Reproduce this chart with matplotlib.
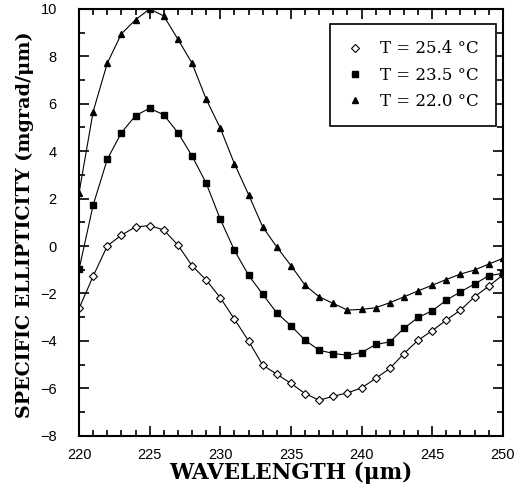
import numpy as np
import matplotlib.pyplot as plt
from matplotlib.ticker import MultipleLocator

# wavelength (nm), one point per nm
wavelength = list(range(220, 251))

# T = 25.4 C (open diamonds)
ell_254 = [-2.63, -1.27, 0.01, 0.46, 0.81, 0.86, 0.68, 0.04, -0.83, -1.43,
           -2.18, -3.08, -4.00, -5.02, -5.40, -5.79, -6.22, -6.50, -6.33, -6.19,
           -5.98, -5.58, -5.16, -4.53, -3.97, -3.57, -3.12, -2.70, -2.14, -1.69,
           -1.22]
# T = 23.5 C (filled squares)
ell_235 = [-0.98, 1.73, 3.66, 4.78, 5.50, 5.81, 5.53, 4.78, 3.80, 2.65,
           1.13, -0.18, -1.23, -2.03, -2.82, -3.36, -3.97, -4.39, -4.53, -4.60,
           -4.49, -4.15, -4.04, -3.47, -3.01, -2.73, -2.28, -1.93, -1.60, -1.25,
           -1.15]
# T = 22.0 C (filled triangles)
ell_220 = [2.24, 5.67, 7.71, 8.95, 9.54, 10.0, 9.70, 8.72, 7.71, 6.19,
           4.97, 3.47, 2.17, 0.81, -0.04, -0.82, -1.65, -2.14, -2.42, -2.70,
           -2.67, -2.60, -2.39, -2.14, -1.89, -1.65, -1.41, -1.18, -1.01, -0.76,
           -0.52]

labels = ["T = 25.4 \u00b0C", "T = 23.5 \u00b0C", "T = 22.0 \u00b0C"]

fig = plt.figure(figsize=(5.2, 4.93), dpi=100)
ax = fig.add_axes([0.152, 0.116, 0.815, 0.866])

ax.plot(wavelength, ell_254, color="black", lw=0.8, marker="D", ms=3.6,
        mfc="white", mec="black", mew=0.8, label=labels[0])
ax.plot(wavelength, ell_235, color="black", lw=0.8, marker="s", ms=3.8,
        mfc="black", mec="black", label=labels[1])
ax.plot(wavelength, ell_220, color="black", lw=0.8, marker="^", ms=3.8,
        mfc="black", mec="black", label=labels[2])

ax.set_xlim(220, 250)
ax.set_ylim(-8, 10)
ax.xaxis.set_major_locator(MultipleLocator(5))
ax.xaxis.set_minor_locator(MultipleLocator(1))
ax.yaxis.set_major_locator(MultipleLocator(2))
ax.yaxis.set_minor_locator(MultipleLocator(1))
ax.tick_params(which="both", direction="in", top=True, right=True,
               labelsize=10.5, width=1.2, colors="black")
ax.tick_params(which="major", length=7)
ax.tick_params(which="minor", length=4)
ax.tick_params(axis="x", which="major", pad=9)
ax.tick_params(axis="y", which="major", pad=16)
for lab in ax.get_xticklabels() + ax.get_yticklabels():
    lab.set_family("Liberation Sans")
for s in ax.spines.values():
    s.set_linewidth(1.5)

ax.set_xlabel("WAVELENGTH (\u03bcm)", fontsize=15.5, fontweight="bold",
              family="DejaVu Serif")
ax.xaxis.set_label_coords(0.5, -0.061)
ax.xaxis.label.set_va("top")
ax.set_ylabel("SPECIFIC ELLIPTICITY (mgrad/\u03bcm)", fontsize=13.8,
              fontweight="bold", family="DejaVu Serif")
ax.yaxis.set_label_coords(-0.128, 0.495)
ax.yaxis.label.set_va("center")

leg = ax.legend(loc="upper right", bbox_to_anchor=(0.983, 0.965),
                fancybox=False, framealpha=1, edgecolor="black",
                prop={"family": "DejaVu Serif", "size": 12},
                handlelength=1.0, handletextpad=1.0, borderpad=1.0,
                labelspacing=0.55, borderaxespad=0)
for h in leg.legend_handles:
    h.set_linestyle("none")
leg.get_frame().set_linewidth(1.2)

fig.savefig("out.png", dpi=100)
